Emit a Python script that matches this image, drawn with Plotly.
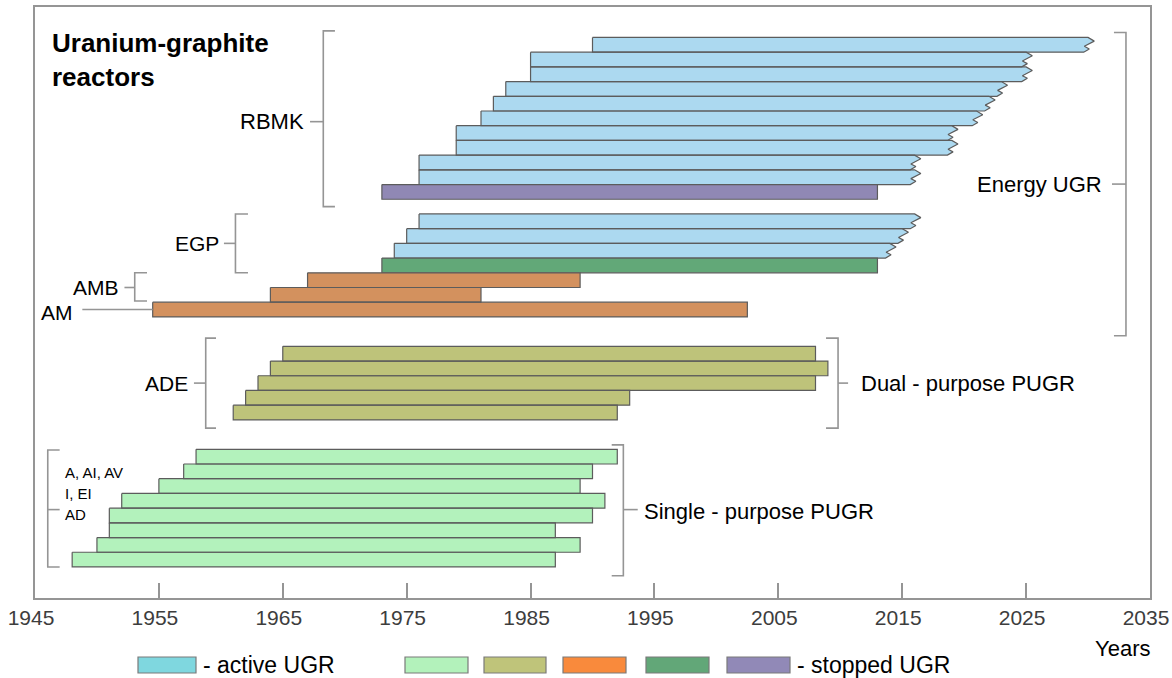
import plotly.graph_objects as go

# ---------------- data ----------------
tick_years = [1945, 1955, 1965, 1975, 1985, 1995, 2005, 2015, 2025, 2035]

rbmk_start = [1990, 1985, 1985, 1983, 1982, 1981, 1979, 1979, 1976, 1976, 1973]
rbmk_end = [2030, 2025, 2025, 2023, 2022, 2021, 2019, 2019, 2016, 2016, 2013]
rbmk_active = [True] * 10 + [False]

egp_start = [1976, 1975, 1974, 1973]
egp_end = [2016, 2015, 2014, 2013]
egp_active = [True, True, True, False]

amb_start = [1967, 1964]
amb_end = [1989, 1981]

am_start = [1954.5]
am_end = [2002.5]

ade_start = [1965, 1964, 1963, 1962, 1961]
ade_end = [2008, 2009, 2008, 1993, 1992]

spu_start = [1958, 1957, 1955, 1952, 1951, 1951, 1950, 1948]
spu_end = [1992, 1990, 1989, 1991, 1990, 1987, 1989, 1987]

legend_labels = ["- active UGR", "", "", "", "", "- stopped UGR"]

# ---------------- styles ----------------
FONT = "Liberation Sans, Arial, sans-serif"
C_ACTIVE = "#acd9f0"
C_STOP_RBMK = "#9088b4"
C_STOP_EGP = "#62a878"
C_AM = "#d3915e"
C_ADE = "#bec37a"
C_SPU = "#b3f2bc"
EDGE = "#5c5c5c"
GRAY = "#959595"
legend_colors = ["#7fd7df", "#b3f2bb", "#bfc47a", "#f98a3c", "#62a778", "#9189b7"]

groups = [
    dict(name="RBMK", s=rbmk_start, e=rbmk_end, act=rbmk_active,
         col=[C_ACTIVE if a else C_STOP_RBMK for a in rbmk_active], gap=0),
    dict(name="EGP", s=egp_start, e=egp_end, act=egp_active,
         col=[C_ACTIVE if a else C_STOP_EGP for a in egp_active], gap=1),
    dict(name="AMB", s=amb_start, e=amb_end, act=[False] * 2, col=[C_AM] * 2, gap=0),
    dict(name="AM", s=am_start, e=am_end, act=[False], col=[C_AM], gap=0),
    dict(name="ADE", s=ade_start, e=ade_end, act=[False] * 5, col=[C_ADE] * 5, gap=2),
    dict(name="SPU", s=spu_start, e=spu_end, act=[False] * 8, col=[C_SPU] * 8, gap=2),
]

row = 0
for g in groups:
    row += g["gap"]
    g["rows"] = list(range(row, row + len(g["s"])))
    row += len(g["s"])
G = {g["name"]: g for g in groups}

# zig-zag "break" at the right end of still-operating reactors
ZIG = [(0.25, 0.5), (0.6, -0.3), (0.78, 0.1), (1.0, -0.35)]


def bar_poly(s, e, r, zig):
    top, bot = r - 0.5, r + 0.5
    xs, ys = [s, e], [top, top]
    if zig:
        for f, dx in ZIG:
            xs.append(e + dx)
            ys.append(top + f)
    else:
        xs.append(e)
        ys.append(bot)
    xs += [s, s]
    ys += [bot, top]
    return xs, ys


buckets = {}
for g in groups:
    for s, e, a, c, r in zip(g["s"], g["e"], g["act"], g["col"], g["rows"]):
        xs, ys = bar_poly(s, e, r, a)
        bx, by = buckets.setdefault(c, ([], []))
        bx += xs + [None]
        by += ys + [None]

fig = go.Figure()
for c, (bx, by) in buckets.items():
    fig.add_trace(go.Scatter(x=bx, y=by, mode="lines", fill="toself", fillcolor=c,
                             line=dict(color=EDGE, width=1.2), hoverinfo="skip",
                             showlegend=False))

shapes = []


def line(x0, y0, x1, y1, ref="data"):
    d = dict(type="line", x0=x0, y0=y0, x1=x1, y1=y1,
             line=dict(color=GRAY, width=1.6))
    if ref == "data":
        d.update(xref="x", yref="y")
    else:
        d.update(xref="paper", yref="paper")
    shapes.append(d)


def bracket(x, xt, y0, y1, xd=None, yd=None):
    path = f"M {xt},{y0} L {x},{y0} L {x},{y1} L {xt},{y1}"
    shapes.append(dict(type="path", path=path, xref="x", yref="y",
                       line=dict(color=GRAY, width=1.6)))
    if xd is not None:
        line(xd, yd, x, yd)


def edges(name):
    r = G[name]["rows"]
    return r[0] - 0.5, r[-1] + 0.5


annos = []


def label(text, x, y, anchor, size=21, bold=False):
    annos.append(dict(text=f"<b>{text}</b>" if bold else text, x=x, y=y, xref="x", yref="y",
                      xanchor=anchor, yanchor="middle", showarrow=False, align="left",
                      font=dict(family=FONT, size=size, color="#000000")))


# RBMK
t, b = edges("RBMK")
t, b = t - 0.45, b + 0.5
mid = (t + b) / 2 + 0.2
bracket(1968.27, 1969.21, t, b, 1967.2, mid)
label("RBMK", 1966.85, mid, "right", 22)
# EGP
t, b = edges("EGP")
mid = (t + b) / 2
bracket(1961.18, 1962.19, t, b, 1960.25, mid)
label("EGP", 1960.05, mid, "right", 21)
# AMB
t, b = edges("AMB")
mid = (t + b) / 2
bracket(1953.05, 1954.04, t, b - 0.08, 1952.22, mid)
label("AMB", 1951.95, mid, "right", 21)
# AM
r_am = G["AM"]["rows"][0]
line(1948.82, r_am, am_start[0], r_am)
label("AM", 1948.2, r_am + 0.2, "right", 21)
# ADE / dual purpose
t, b = edges("ADE")
t, b = t - 0.56, b + 0.56
mid = (t + b) / 2
bracket(1958.78, 1959.61, t, b, 1957.83, mid)
label("ADE", 1957.55, mid, "right", 21)
bracket(2009.82, 2008.85, t, b)
line(2009.82, mid, 2010.63, mid)
label("Dual - purpose PUGR", 2011.5, mid, "left", 22)
# single purpose
t, b = edges("SPU")
mid = (t + b) / 2
bracket(1946.03, 1946.99, t + 0.05, b)
line(1946.03, mid + 0.1, 1946.99, mid + 0.1)
label("A, AI, AV", 1947.3, t + 1.6, "left", 15)
label("I, EI", 1947.3, t + 3.0, "left", 15)
label("AD", 1947.3, t + 4.4, "left", 15)
bracket(1992.49, 1991.55, t - 0.3, b + 0.6)
line(1992.49, mid + 0.1, 1993.65, mid + 0.1)
label("Single - purpose PUGR", 1994.0, mid + 0.2, "left", 22)
# energy UGR
t0 = edges("RBMK")[0] - 0.34
b0 = edges("ADE")[1] - 5.72
mid = (t0 + b0) / 2
bracket(2033.06, 2032.09, t0, b0, 2031.93, mid)
label("Energy UGR", 2031.3, mid, "right", 22)

# title
label("Uranium-graphite<br>reactors", 1946.2, 1.0, "left", 26, bold=True)

# ---------------- custom legend below the axis ----------------
X0, W, Y0, H = 35, 1115, 598, 591


def px(x):
    return (x - X0) / W


def py(y):
    return (Y0 - y) / H


legend_boxes = [(138, 196), (405, 468), (484, 546), (563, 626), (646, 709), (727, 790)]
for (a, bb), c, lab in zip(legend_boxes, legend_colors, legend_labels):
    shapes.append(dict(type="rect", xref="paper", yref="paper",
                       x0=px(a), x1=px(bb), y0=py(673), y1=py(657),
                       fillcolor=c, line=dict(color="#7a7a7a", width=1.2)))
    if lab:
        annos.append(dict(text=lab, xref="paper", yref="paper", x=px(bb + 5), y=py(665),
                          xanchor="left", yanchor="middle", showarrow=False,
                          font=dict(family=FONT, size=23, color="#000000")))

annos.append(dict(text="Years", xref="paper", yref="paper", x=px(1122), y=py(648),
                  xanchor="center", yanchor="middle", showarrow=False,
                  font=dict(family=FONT, size=22, color="#000000")))

n_rows = row
fig.update_layout(
    width=1172, height=678,
    margin=dict(l=X0, r=1172 - X0 - W, t=7, b=678 - Y0, autoexpand=False),
    plot_bgcolor="white", paper_bgcolor="white",
    showlegend=False,
    shapes=shapes, annotations=annos,
    xaxis=dict(range=[tick_years[0], tick_years[-1]], tickvals=tick_years,
               ticks="inside", ticklen=15, tickwidth=1.5, tickcolor=GRAY,
               showline=True, linecolor=GRAY, linewidth=1.6, mirror=True,
               showgrid=False, zeroline=False, ticklabeloverflow="allow",
               ticklabelshift=-4, automargin=False,
               tickfont=dict(family=FONT, size=21, color="#3d3d3d")),
    yaxis=dict(range=[n_rows + 1.61, -2.57], showline=True, linecolor=GRAY,
               linewidth=1.6, mirror=True, showticklabels=False, ticks="",
               showgrid=False, zeroline=False, automargin=False),
)

fig.write_html("out.html", config=dict(displayModeBar=False),
               post_script="document.body.style.margin='0';"
                           "document.body.style.overflow='hidden';")
